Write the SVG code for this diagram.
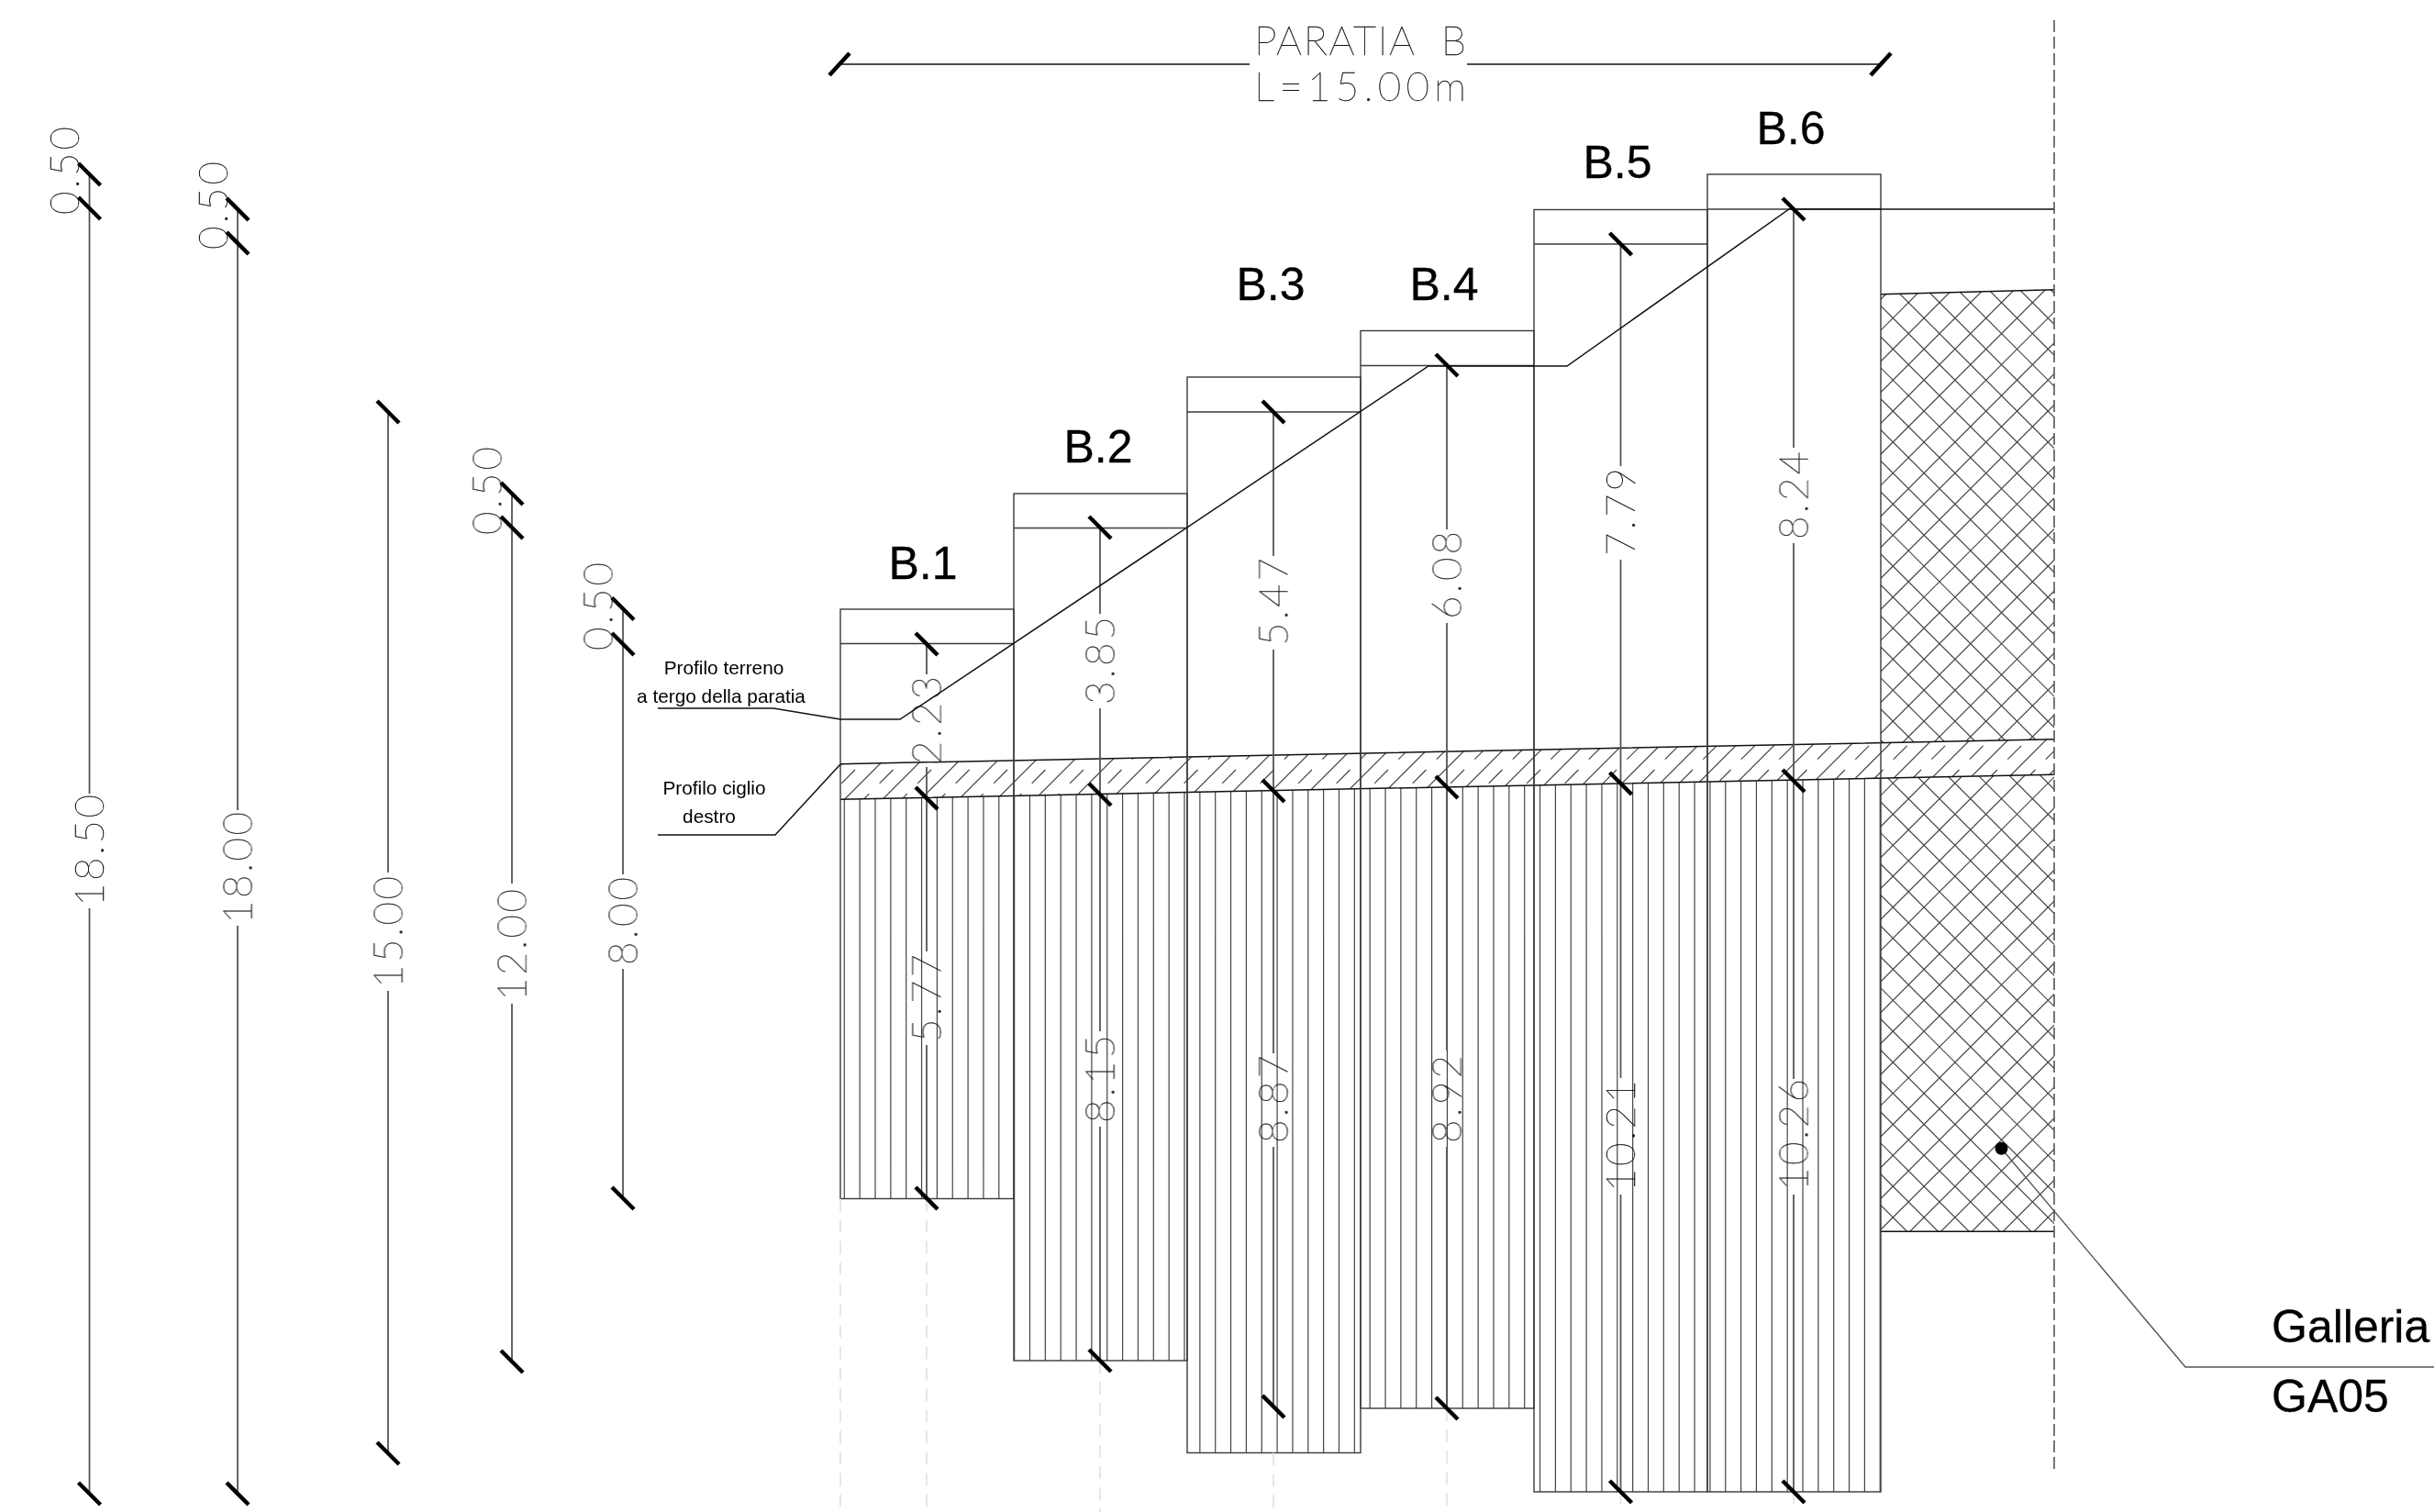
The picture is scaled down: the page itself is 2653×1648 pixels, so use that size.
<svg xmlns="http://www.w3.org/2000/svg" width="2653" height="1648" viewBox="0 0 2653 1648">
<style>
.c{fill:none;stroke:#3a3a3a;stroke-width:1.4}
.k{fill:none;stroke:#111;stroke-width:1.5}
.d{fill:none;stroke:#555;stroke-width:1.8}
.f{fill:none;stroke:#e2e2e2;stroke-width:1.6;stroke-dasharray:14 9}
.t{stroke:#000;stroke-width:4.5;fill:none}
.hl{fill:none;stroke:#444;stroke-width:1.2}
.n{font-family:Lato,"Liberation Sans",sans-serif;font-weight:100;font-size:44px;fill:#111;stroke:#111;stroke-width:.4}
.h{font-family:"Liberation Sans",Arial,sans-serif;font-size:50px;fill:#000;stroke:#000;stroke-width:.3}
.p{font-family:"Liberation Sans",Arial,sans-serif;font-size:20.8px;fill:#000;text-anchor:middle}
</style>
<defs>
<path id="t" class="t" d="M-12,-12L12,12"/>
<path id="u" class="t" d="M-11,12L11,-12"/>
<path id="v10" d="M0,840v800M16.85,840v800M33.7,840v800M50.55,840v800M67.4,840v800M84.25,840v800M101.1,840v800M117.95,840v800M134.8,840v800M151.65,840v800"/>
<clipPath id="cx"><polygon points="2050,320.7 2239,315.7 2239,1342.3 2050,1342.3"/></clipPath>
<clipPath id="cb"><polygon points="916,832.7 2239,805.7 2239,844.3 916,871.3"/></clipPath>
<clipPath id="cv"><rect x="916" y="840" width="189" height="466.5"/><rect x="1105" y="840" width="189" height="643"/><rect x="1294" y="840" width="189" height="743.5"/><rect x="1483" y="840" width="189" height="695"/><rect x="1672" y="840" width="378" height="786"/></clipPath>
</defs>
<rect width="2653" height="1648" fill="#fff"/>

<g id="galleria-hatch">
<g clip-path="url(#cx)">
<path class="hl" d="M2219.4,300l1050,1050m-1083.8,-1050l1050,1050m-1083.8,-1050l1050,1050m-1083.8,-1050l1050,1050m-1083.8,-1050l1050,1050m-1083.8,-1050l1050,1050m-1083.8,-1050l1050,1050m-1083.8,-1050l1050,1050m-1083.8,-1050l1050,1050m-1083.8,-1050l1050,1050m-1083.8,-1050l1050,1050m-1083.8,-1050l1050,1050m-1083.8,-1050l1050,1050m-1083.8,-1050l1050,1050m-1083.8,-1050l1050,1050m-1083.8,-1050l1050,1050m-1083.8,-1050l1050,1050m-1083.8,-1050l1050,1050m-1083.8,-1050l1050,1050m-1083.8,-1050l1050,1050m-1083.8,-1050l1050,1050m-1083.8,-1050l1050,1050m-1083.8,-1050l1050,1050m-1083.8,-1050l1050,1050m-1083.8,-1050l1050,1050m-1083.8,-1050l1050,1050m-1083.8,-1050l1050,1050m-1083.8,-1050l1050,1050m-1083.8,-1050l1050,1050m-1083.8,-1050l1050,1050m-1083.8,-1050l1050,1050m-1083.8,-1050l1050,1050m-1083.8,-1050l1050,1050m-1083.8,-1050l1050,1050m-1083.8,-1050l1050,1050m-1083.8,-1050l1050,1050m-1083.8,-1050l1050,1050"/>
<path class="hl" d="M2042.4,300l-1050,1050m1083.8,-1050l-1050,1050m1083.8,-1050l-1050,1050m1083.8,-1050l-1050,1050m1083.8,-1050l-1050,1050m1083.8,-1050l-1050,1050m1083.8,-1050l-1050,1050m1083.8,-1050l-1050,1050m1083.8,-1050l-1050,1050m1083.8,-1050l-1050,1050m1083.8,-1050l-1050,1050m1083.8,-1050l-1050,1050m1083.8,-1050l-1050,1050m1083.8,-1050l-1050,1050m1083.8,-1050l-1050,1050m1083.8,-1050l-1050,1050m1083.8,-1050l-1050,1050m1083.8,-1050l-1050,1050m1083.8,-1050l-1050,1050m1083.8,-1050l-1050,1050m1083.8,-1050l-1050,1050m1083.8,-1050l-1050,1050m1083.8,-1050l-1050,1050m1083.8,-1050l-1050,1050m1083.8,-1050l-1050,1050m1083.8,-1050l-1050,1050m1083.8,-1050l-1050,1050m1083.8,-1050l-1050,1050m1083.8,-1050l-1050,1050m1083.8,-1050l-1050,1050m1083.8,-1050l-1050,1050m1083.8,-1050l-1050,1050m1083.8,-1050l-1050,1050m1083.8,-1050l-1050,1050m1083.8,-1050l-1050,1050m1083.8,-1050l-1050,1050m1083.8,-1050l-1050,1050"/>
</g>
<path class="k" d="M2050,320.7L2239,315.7M2050,1342.3L2239,1342.3"/>
</g>

<g id="micropali" clip-path="url(#cv)">
<g class="hl" stroke-width="1.3">
<use href="#v10" x="920.3"/><use href="#v10" x="1088.8"/><use href="#v10" x="1257.3"/><use href="#v10" x="1425.8"/><use href="#v10" x="1594.3"/><use href="#v10" x="1762.8"/><use href="#v10" x="1931.3"/>
</g>
</g>

<g id="ciglio">
<polygon points="916,832.7 2239,805.7 2239,844.3 916,871.3" fill="#fff"/>
<g clip-path="url(#cb)">
<path class="hl" d="M870.2,880l90,-90m-48.5,90l90,-90m-48.5,90l90,-90m-48.5,90l90,-90m-48.5,90l90,-90m-48.5,90l90,-90m-48.5,90l90,-90m-48.5,90l90,-90m-48.5,90l90,-90m-48.5,90l90,-90m-48.5,90l90,-90m-48.5,90l90,-90m-48.5,90l90,-90m-48.5,90l90,-90m-48.5,90l90,-90m-48.5,90l90,-90m-48.5,90l90,-90m-48.5,90l90,-90m-48.5,90l90,-90m-48.5,90l90,-90m-48.5,90l90,-90m-48.5,90l90,-90m-48.5,90l90,-90m-48.5,90l90,-90m-48.5,90l90,-90m-48.5,90l90,-90m-48.5,90l90,-90m-48.5,90l90,-90m-48.5,90l90,-90m-48.5,90l90,-90m-48.5,90l90,-90m-48.5,90l90,-90m-48.5,90l90,-90m-48.5,90l90,-90"/>
<path class="hl" stroke-dasharray="21 16" d="M891,880l90,-90m-48.5,90l90,-90m-48.5,90l90,-90m-48.5,90l90,-90m-48.5,90l90,-90m-48.5,90l90,-90m-48.5,90l90,-90m-48.5,90l90,-90m-48.5,90l90,-90m-48.5,90l90,-90m-48.5,90l90,-90m-48.5,90l90,-90m-48.5,90l90,-90m-48.5,90l90,-90m-48.5,90l90,-90m-48.5,90l90,-90m-48.5,90l90,-90m-48.5,90l90,-90m-48.5,90l90,-90m-48.5,90l90,-90m-48.5,90l90,-90m-48.5,90l90,-90m-48.5,90l90,-90m-48.5,90l90,-90m-48.5,90l90,-90m-48.5,90l90,-90m-48.5,90l90,-90m-48.5,90l90,-90m-48.5,90l90,-90m-48.5,90l90,-90m-48.5,90l90,-90m-48.5,90l90,-90m-48.5,90l90,-90"/>
</g>
<path class="k" d="M916,832.7L2239,805.7M916,871.3L2239,844.3"/>
</g>

<g id="B1"><rect class="c" x="916" y="664" width="189" height="642.5"/><path class="c" d="M916,701.5H1105"/><text class="h" x="1006" y="631" text-anchor="middle">B.1</text></g>
<g id="B2"><rect class="c" x="1105" y="538" width="189" height="945"/><path class="c" d="M1105,575.5H1294"/><text class="h" x="1197" y="504" text-anchor="middle">B.2</text></g>
<g id="B3"><rect class="c" x="1294" y="411" width="189" height="1172.5"/><path class="c" d="M1294,449H1483"/><text class="h" x="1385" y="327" text-anchor="middle">B.3</text></g>
<g id="B4"><rect class="c" x="1483" y="360.5" width="189" height="1174.5"/><path class="c" d="M1483,398.5H1672"/><text class="h" x="1574" y="327" text-anchor="middle">B.4</text></g>
<g id="B5"><rect class="c" x="1672" y="228.5" width="189" height="1397.5"/><path class="c" d="M1672,266H1861"/><text class="h" x="1763" y="194" text-anchor="middle">B.5</text></g>
<g id="B6"><rect class="c" x="1861" y="190" width="189" height="1436"/><path class="c" d="M1861,228H2050"/><text class="h" x="1952" y="157" text-anchor="middle">B.6</text></g>

<g id="connectors">
<path class="f" d="M916,1306.5V1648M1010,1306.5V1648M1199,1483V1648M1388,1583.5V1648M1577,1535V1648M1766.5,1626V1648M1955,1626V1648"/>
<path class="d" d="M1010,702V735M1010,836V1037M1010,1139V1306"/>
<path class="d" d="M1199,575V669M1199,772V1124M1199,1228V1483"/>
<path class="d" d="M1388,449V606M1388,708V1148M1388,1250V1533"/>
<path class="d" d="M1577,398V577M1577,679V1145M1577,1250V1535"/>
<path class="d" d="M1766.5,266V508M1766.5,610V1175M1766.5,1302V1626"/>
<path class="d" d="M1955,228V488M1955,592V1176M1955,1302V1626"/>
<path class="d" d="M97.5,190V865M97.5,990V1628"/>
<path class="d" d="M259,228V883M259,1009V1628"/>
<path class="d" d="M423,449V951M423,1080V1584"/>
<path class="d" d="M558,538V963M558,1094V1484"/>
<path class="d" d="M679,663V953M679,1056V1306"/>
<path class="k" d="M915,70H1362M1599,70H2050"/>
<path class="k" d="M717,772H843L916,784H981L1557,399H1708L1950,228H2239"/>
<path class="k" d="M717,910H845L916,833"/>
<path class="d" style="stroke-width:1.4" d="M2181.5,1251.7L2382,1490H2653"/>
<path fill="none" stroke="#555" stroke-width="1.6" stroke-dasharray="13 5" d="M2239,22V1606"/>
<circle cx="2181.5" cy="1251.7" r="7" fill="#000"/>
</g>

<g id="ticks">
<use href="#u" x="915" y="70"/><use href="#u" x="2050" y="70"/>
<use href="#t" x="1010" y="702"/><use href="#t" x="1010" y="870"/><use href="#t" x="1010" y="1306"/>
<use href="#t" x="1199" y="575"/><use href="#t" x="1199" y="866"/><use href="#t" x="1199" y="1483"/>
<use href="#t" x="1388" y="449"/><use href="#t" x="1388" y="862"/><use href="#t" x="1388" y="1533"/>
<use href="#t" x="1577" y="398"/><use href="#t" x="1577" y="858"/><use href="#t" x="1577" y="1535"/>
<use href="#t" x="1766.5" y="266"/><use href="#t" x="1766.5" y="854"/><use href="#t" x="1766.5" y="1626"/>
<use href="#t" x="1955" y="228"/><use href="#t" x="1955" y="851"/><use href="#t" x="1955" y="1626"/>
<use href="#t" x="97.5" y="190"/><use href="#t" x="97.5" y="227"/><use href="#t" x="97.5" y="1628"/>
<use href="#t" x="259" y="228"/><use href="#t" x="259" y="265"/><use href="#t" x="259" y="1628"/>
<use href="#t" x="423" y="449"/><use href="#t" x="423" y="1584"/>
<use href="#t" x="558" y="538"/><use href="#t" x="558" y="575"/><use href="#t" x="558" y="1484"/>
<use href="#t" x="679" y="663.5"/><use href="#t" x="679" y="702"/><use href="#t" x="679" y="1306"/>
</g>

<g id="dimensions" opacity="0.99">
<text class="n" transform="translate(86,234) rotate(-90)" textLength="96">0.50</text>
<text class="n" transform="translate(113,988) rotate(-90)" textLength="122">18.50</text>
<text class="n" transform="translate(248,272) rotate(-90)" textLength="96">0.50</text>
<text class="n" transform="translate(274.5,1007) rotate(-90)" textLength="122">18.00</text>
<text class="n" transform="translate(438.5,1077) rotate(-90)" textLength="122">15.00</text>
<text class="n" transform="translate(546.5,583) rotate(-90)" textLength="96">0.50</text>
<text class="n" transform="translate(573.5,1091) rotate(-90)" textLength="122">12.00</text>
<text class="n" transform="translate(667.5,709) rotate(-90)" textLength="96">0.50</text>
<text class="n" transform="translate(694.5,1052) rotate(-90)" textLength="96">8.00</text>
<text class="n" transform="translate(1025.5,833) rotate(-90)" textLength="96">2.23</text>
<text class="n" transform="translate(1025.5,1136) rotate(-90)" textLength="96">5.77</text>
<text class="n" transform="translate(1214.5,768) rotate(-90)" textLength="96">3.85</text>
<text class="n" transform="translate(1214.5,1224) rotate(-90)" textLength="96">8.15</text>
<text class="n" transform="translate(1403.5,704) rotate(-90)" textLength="96">5.47</text>
<text class="n" transform="translate(1403.5,1246) rotate(-90)" textLength="96">8.87</text>
<text class="n" transform="translate(1592.5,675) rotate(-90)" textLength="96">6.08</text>
<text class="n" transform="translate(1592.5,1246) rotate(-90)" textLength="96">8.92</text>
<text class="n" transform="translate(1782,606) rotate(-90)" textLength="96">7.79</text>
<text class="n" transform="translate(1782,1299) rotate(-90)" textLength="122">10.21</text>
<text class="n" transform="translate(1970.5,588) rotate(-90)" textLength="96">8.24</text>
<text class="n" transform="translate(1970.5,1298) rotate(-90)" textLength="122">10.26</text>
<text class="n" x="1367" y="60" textLength="231">PARATIA&#160;&#160;B</text>
<text class="n" x="1367" y="110" textLength="231">L=15.00m</text>
</g>

<g id="labels">
<text class="p" x="789" y="735">Profilo terreno</text>
<text class="p" x="786" y="766">a tergo della paratia</text>
<text class="p" x="778.5" y="866">Profilo ciglio</text>
<text class="p" x="773" y="897">destro</text>
<text class="h" x="2476" y="1463">Galleria</text>
<text class="h" x="2476" y="1539">GA05</text>
</g>
</svg>
